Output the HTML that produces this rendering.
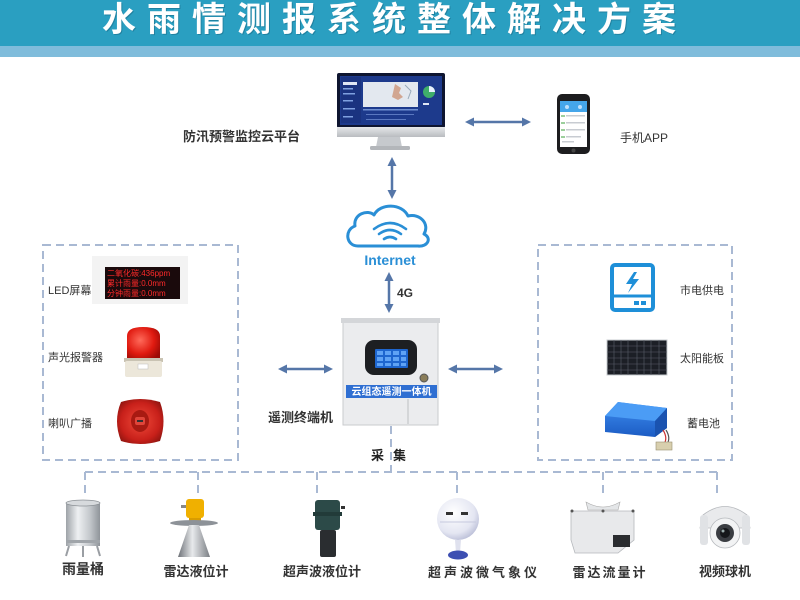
<!DOCTYPE html>
<html>
<head>
<meta charset="utf-8">
<style>
html,body{margin:0;padding:0;background:#fff;}
body{width:800px;height:600px;overflow:hidden;font-family:"Liberation Sans","Noto Sans CJK SC",sans-serif;}
svg{display:block;}
text{font-family:"Liberation Sans","Noto Sans CJK SC",sans-serif;}
</style>
</head>
<body>
<svg width="800" height="600" viewBox="0 0 800 600" xmlns="http://www.w3.org/2000/svg">
<defs>
  <linearGradient id="silver" x1="0" x2="1" y1="0" y2="0">
    <stop offset="0" stop-color="#9ea3a8"/>
    <stop offset="0.35" stop-color="#eef0f2"/>
    <stop offset="0.7" stop-color="#c4c8cc"/>
    <stop offset="1" stop-color="#8f949a"/>
  </linearGradient>
  <linearGradient id="chin" x1="0" x2="0" y1="0" y2="1">
    <stop offset="0" stop-color="#e6e8ea"/>
    <stop offset="1" stop-color="#b9bcc0"/>
  </linearGradient>
  <radialGradient id="reddome" cx="0.4" cy="0.4" r="0.7">
    <stop offset="0" stop-color="#ff6a5a"/>
    <stop offset="0.6" stop-color="#e01a10"/>
    <stop offset="1" stop-color="#9a0a05"/>
  </radialGradient>
  <radialGradient id="horn" cx="0.5" cy="0.5" r="0.6">
    <stop offset="0" stop-color="#f04a3a"/>
    <stop offset="0.7" stop-color="#c8201a"/>
    <stop offset="1" stop-color="#8e1510"/>
  </radialGradient>
  <radialGradient id="sphere" cx="0.4" cy="0.35" r="0.7">
    <stop offset="0" stop-color="#ffffff"/>
    <stop offset="0.7" stop-color="#e4e6f2"/>
    <stop offset="1" stop-color="#b8bcd6"/>
  </radialGradient>
  <linearGradient id="cone" x1="0" x2="1">
    <stop offset="0" stop-color="#6d7177"/>
    <stop offset="0.45" stop-color="#e8eaec"/>
    <stop offset="1" stop-color="#7a7e84"/>
  </linearGradient>
  <linearGradient id="batt" x1="0" x2="0" y1="0" y2="1">
    <stop offset="0" stop-color="#3f8ef0"/>
    <stop offset="1" stop-color="#1c5cc4"/>
  </linearGradient>
</defs>

<!-- Header -->
<rect x="0" y="0" width="800" height="46" fill="#2a9fc1"/>
<rect x="0" y="46" width="800" height="11" fill="#7fbcdb"/>
<text x="103" y="32" font-size="34" font-weight="bold" fill="#1b6f8c" letter-spacing="11" opacity="0.6">水雨情测报系统整体解决方案</text>
<text x="102" y="31" font-size="34" font-weight="bold" fill="#ffffff" letter-spacing="11">水雨情测报系统整体解决方案</text>

<!-- Monitor -->
<rect x="337" y="73" width="108" height="55" rx="2" fill="#0e1530"/>
<rect x="340" y="76" width="102" height="49" fill="#1d3a8c"/>
<rect x="341" y="77" width="20" height="46" fill="#1a3380"/>
<rect x="343" y="82" width="14" height="3" fill="#dfe6f5"/>
<rect x="343" y="88" width="10" height="1.5" fill="#7fa0e0"/>
<rect x="343" y="93" width="12" height="1.5" fill="#7fa0e0"/>
<rect x="343" y="100" width="10" height="1.5" fill="#7fa0e0"/>
<rect x="343" y="108" width="12" height="1.5" fill="#7fa0e0"/>
<rect x="343" y="116" width="10" height="1.5" fill="#7fa0e0"/>
<rect x="363" y="82" width="55" height="25" fill="#e3e8ef"/>
<path d="M395 84 l6 4 l-2 5 l4 4 l-5 3 l-6 -3 z" fill="#c98a6a" opacity="0.7"/>
<path d="M405 85 l6 6 l-3 8" stroke="#9ab" stroke-width="1" fill="none"/>
<rect x="363" y="109" width="55" height="1.5" fill="#6f8fd0"/>
<rect x="366" y="114" width="48" height="1" fill="#5a78c0"/>
<rect x="366" y="119" width="40" height="1" fill="#5a78c0"/>
<circle cx="429" cy="92" r="6" fill="#3fae6a"/>
<path d="M429 92 L429 86 A6 6 0 0 1 435 92 z" fill="#e8f0ff"/>
<rect x="423" y="103" width="6" height="2" fill="#dfe6f5"/>
<rect x="337" y="127" width="108" height="10" fill="url(#chin)"/>
<path d="M378 137 L400 137 L402 147 L376 147 z" fill="#c6c9cd"/>
<rect x="370" y="146" width="40" height="4" rx="1.5" fill="#b3b6ba"/>

<!-- Monitor label -->
<text x="183" y="141" font-size="13" fill="#333" font-weight="bold">防汛预警监控云平台</text>

<!-- Arrow monitor - phone -->
<g fill="#5576a8" stroke="#5576a8">
  <line x1="472" y1="122" x2="524" y2="122" stroke-width="2.5"/>
  <path d="M465 122 L474 117.5 L474 126.5 z" stroke="none"/>
  <path d="M531 122 L522 117.5 L522 126.5 z" stroke="none"/>
</g>

<!-- Phone -->
<rect x="557" y="94" width="33" height="60" rx="5" fill="#1d1d1f"/>
<rect x="560" y="101" width="27" height="46" fill="#ffffff"/>
<rect x="560" y="101" width="27" height="11" fill="#45a6ea"/>
<circle cx="567" cy="107" r="2" fill="#bfe0fb"/>
<circle cx="580" cy="107" r="2" fill="#bfe0fb"/>
<g fill="#9ccf9c"><rect x="561" y="115" width="4" height="2"/><rect x="561" y="122" width="4" height="2"/><rect x="561" y="129" width="4" height="2"/><rect x="561" y="136" width="4" height="2"/></g>
<g fill="#c8ccd2"><rect x="566" y="115" width="19" height="1.5"/><rect x="566" y="122" width="19" height="1.5"/><rect x="566" y="129" width="19" height="1.5"/><rect x="566" y="136" width="15" height="1.5"/><rect x="562" y="141" width="12" height="1.5"/></g>
<circle cx="573.5" cy="150.5" r="2" fill="#444"/>
<text x="620" y="142" font-size="12" fill="#333">手机APP</text>

<!-- Vertical arrow monitor - cloud -->
<g fill="#5576a8" stroke="#5576a8">
  <line x1="392" y1="164" x2="392" y2="192" stroke-width="2.5"/>
  <path d="M392 157 L387.5 166 L396.5 166 z" stroke="none"/>
  <path d="M392 199 L387.5 190 L396.5 190 z" stroke="none"/>
</g>

<!-- Cloud -->
<path d="M358 246 C346 246 344 230 355 226 C353 214 368 209 374 215 C380 203 402 203 408 216 C420 213 430 224 424 234 C432 238 428 247 418 246 Z" fill="none" stroke="#2a8fd6" stroke-width="3" stroke-linejoin="round"/>
<g fill="none" stroke="#2a8fd6" stroke-width="2.6" stroke-linecap="round">
  <path d="M374 229 Q390 217 406 229"/>
  <path d="M379 234 Q390 226 401 234"/>
  <path d="M384 239 Q390 235 396 239"/>
</g>
<text x="390" y="265" font-size="14" font-weight="bold" fill="#2a8fd6" text-anchor="middle">Internet</text>

<!-- 4G arrow -->
<g fill="#5576a8" stroke="#5576a8">
  <line x1="389" y1="279" x2="389" y2="306" stroke-width="2.5"/>
  <path d="M389 272 L384.5 281 L393.5 281 z" stroke="none"/>
  <path d="M389 313 L384.5 304 L393.5 304 z" stroke="none"/>
</g>
<text x="397" y="297" font-size="12" font-weight="bold" fill="#333">4G</text>

<!-- Cabinet -->
<rect x="343" y="321" width="95" height="104" fill="#ebecee" stroke="#c9cbce" stroke-width="1"/>
<rect x="341" y="318" width="99" height="5" fill="#d4d6d9"/>
<rect x="365" y="340" width="52" height="35" rx="9" fill="#1d1f22"/>
<rect x="375" y="349" width="33" height="19" rx="1" fill="#1e66cf"/>
<g fill="#5fa3f5">
  <rect x="377" y="351" width="6" height="4"/><rect x="385" y="351" width="6" height="4"/><rect x="393" y="351" width="6" height="4"/><rect x="401" y="351" width="5" height="4"/>
  <rect x="377" y="357" width="6" height="4"/><rect x="385" y="357" width="6" height="4"/><rect x="393" y="357" width="6" height="4"/><rect x="401" y="357" width="5" height="4"/>
  <rect x="377" y="363" width="6" height="3"/><rect x="385" y="363" width="6" height="3"/><rect x="393" y="363" width="6" height="3"/><rect x="401" y="363" width="5" height="3"/>
</g>
<circle cx="424" cy="378" r="4" fill="#8a7d5a" stroke="#555" stroke-width="1"/>
<rect x="346" y="385" width="91" height="13" fill="#2f6fd2"/>
<text x="391.5" y="395" font-size="10" fill="#fff" text-anchor="middle" font-weight="bold">云组态遥测一体机</text>
<line x1="408" y1="399" x2="408" y2="424" stroke="#bdbfc2" stroke-width="1"/>
<text x="268" y="422" font-size="13" fill="#333" font-weight="bold">遥测终端机</text>

<!-- Side arrows -->
<g fill="#5576a8" stroke="#5576a8">
  <line x1="285" y1="369" x2="326" y2="369" stroke-width="2.5"/>
  <path d="M278 369 L287 364.5 L287 373.5 z" stroke="none"/>
  <path d="M333 369 L324 364.5 L324 373.5 z" stroke="none"/>
  <line x1="455" y1="369" x2="496" y2="369" stroke-width="2.5"/>
  <path d="M448 369 L457 364.5 L457 373.5 z" stroke="none"/>
  <path d="M503 369 L494 364.5 L494 373.5 z" stroke="none"/>
</g>

<!-- 采集 -->
<text x="371" y="460" font-size="13" font-weight="bold" fill="#222">采</text>
<text x="393" y="460" font-size="13" font-weight="bold" fill="#222">集</text>

<!-- Dashed boxes and lines -->
<g fill="none" stroke="#a9b9d3" stroke-width="2" stroke-dasharray="8,5">
  <rect x="43" y="245" width="195" height="215"/>
  <rect x="538" y="245" width="194" height="215"/>
  <line x1="391" y1="426" x2="391" y2="472"/>
  <line x1="85" y1="472" x2="717" y2="472"/>
  <line x1="85" y1="472" x2="85" y2="494"/>
  <line x1="198" y1="472" x2="198" y2="494"/>
  <line x1="317" y1="472" x2="317" y2="494"/>
  <line x1="457" y1="472" x2="457" y2="494"/>
  <line x1="603" y1="472" x2="603" y2="494"/>
  <line x1="717" y1="472" x2="717" y2="494"/>
</g>

<!-- Left box: LED -->
<rect x="92" y="256" width="96" height="48" fill="#f3f3f3"/>
<rect x="105" y="267" width="75" height="32" fill="#1a0a0c"/>
<text x="107" y="276" font-size="8" fill="#ff2a2a">二氧化碳:436ppm</text>
<text x="107" y="286" font-size="8" fill="#ff2a2a">累计雨量:0.0mm</text>
<text x="107" y="296" font-size="8" fill="#ff2a2a">分钟雨量:0.0mm</text>
<text x="48" y="294" font-size="11" fill="#333">LED屏幕</text>

<!-- Alarm light -->
<path d="M127 360 L127 336 Q127 327 143 327 Q160 327 160 336 L160 360 z" fill="url(#reddome)"/>
<rect x="124" y="358" width="39" height="4" fill="#c9c3b3"/>
<rect x="125" y="361" width="37" height="16" rx="2" fill="#ece7da"/>
<rect x="138" y="364" width="10" height="5" fill="#fff" stroke="#bbb" stroke-width="0.5"/>
<text x="48" y="361" font-size="11" fill="#333">声光报警器</text>

<!-- Speaker -->
<path d="M121 402 Q140 396 160 402 Q167 421 160 441 Q140 447 121 441 Q113 421 121 402 z" fill="url(#horn)"/>
<ellipse cx="140" cy="421" rx="9" ry="11" fill="#a81a12"/>
<rect x="135" y="417" width="10" height="8" rx="2" fill="#e0453a"/>
<rect x="137" y="420" width="6" height="2" fill="#333"/>
<text x="48" y="427" font-size="11" fill="#333">喇叭广播</text>

<!-- Right box: power -->
<rect x="612" y="265" width="41" height="45" rx="3" fill="#fff" stroke="#1e8fd8" stroke-width="4"/>
<line x1="612" y1="296" x2="653" y2="296" stroke="#1e8fd8" stroke-width="3"/>
<rect x="634" y="301" width="5" height="4" fill="#1e8fd8"/>
<rect x="641" y="301" width="5" height="4" fill="#1e8fd8"/>
<path d="M634 272 L626 284 L632 284 L628 293 L639 279 L633 279 L637 272 z" fill="#1e8fd8"/>
<text x="680" y="294" font-size="11" fill="#333">市电供电</text>

<!-- Solar panel -->
<rect x="607" y="340" width="60" height="35" fill="#1c1f26" stroke="#c9ccd0" stroke-width="1"/>
<g stroke="#5a5f6a" stroke-width="0.6">
  <line x1="607" y1="346" x2="667" y2="346"/><line x1="607" y1="352" x2="667" y2="352"/><line x1="607" y1="358" x2="667" y2="358"/><line x1="607" y1="364" x2="667" y2="364"/><line x1="607" y1="370" x2="667" y2="370"/>
  <line x1="614" y1="340" x2="614" y2="375"/><line x1="621" y1="340" x2="621" y2="375"/><line x1="628" y1="340" x2="628" y2="375"/><line x1="637" y1="340" x2="637" y2="375"/><line x1="644" y1="340" x2="644" y2="375"/><line x1="651" y1="340" x2="651" y2="375"/><line x1="659" y1="340" x2="659" y2="375"/>
</g>
<text x="680" y="362" font-size="11" fill="#333">太阳能板</text>

<!-- Battery -->
<path d="M605 416 L618 402 L667 408 L667 428 L655 437 L605 432 z" fill="url(#batt)"/>
<path d="M605 416 L618 402 L667 408 L655 421 z" fill="#4b9cf5"/>
<path d="M655 421 L667 408 L667 428 L655 437 z" fill="#1a53b0"/>
<path d="M663 430 Q668 438 664 444" stroke="#c33" stroke-width="1.2" fill="none"/>
<path d="M666 430 Q671 438 667 444" stroke="#555" stroke-width="1.2" fill="none"/>
<rect x="656" y="442" width="16" height="8" fill="#d8cfae" stroke="#9a8f70" stroke-width="0.6"/>
<text x="687" y="427" font-size="11" fill="#333">蓄电池</text>

<!-- Bottom: rain bucket -->
<rect x="66" y="502" width="34" height="44" fill="url(#silver)"/>
<ellipse cx="83" cy="503" rx="17" ry="3" fill="#d7dadd" stroke="#8c9196" stroke-width="0.8"/>
<rect x="66" y="540" width="34" height="3" fill="#a0a5aa"/>
<path d="M69 546 L66 556 M97 546 L100 556 M83 546 L83 557" stroke="#9a9ea3" stroke-width="2" fill="none"/>
<text x="83" y="574" font-size="14" font-weight="bold" fill="#333" text-anchor="middle">雨量桶</text>

<!-- Radar level -->
<rect x="186" y="499" width="18" height="19" rx="3" fill="#f0b000"/>
<rect x="181" y="505" width="5" height="3" fill="#888"/>
<rect x="189" y="518" width="12" height="4" fill="#d99c00"/>
<ellipse cx="194" cy="523" rx="24" ry="3" fill="#8d9298"/>
<path d="M189 525 L199 525 L210 557 L178 557 z" fill="url(#cone)"/>
<text x="196" y="576" font-size="13" font-weight="bold" fill="#333" text-anchor="middle">雷达液位计</text>

<!-- Ultrasonic level -->
<rect x="315" y="500" width="25" height="30" rx="3" fill="#2c4a48"/>
<rect x="313" y="512" width="29" height="4" fill="#223b39"/>
<rect x="341" y="506" width="4" height="3" fill="#333"/>
<rect x="320" y="530" width="16" height="27" rx="2" fill="#2a2d30"/>
<text x="322" y="576" font-size="13" font-weight="bold" fill="#333" text-anchor="middle">超声波液位计</text>

<!-- Weather station -->
<circle cx="458" cy="519" r="21" fill="url(#sphere)"/>
<rect x="446" y="512" width="7" height="3" fill="#333"/>
<rect x="461" y="512" width="7" height="3" fill="#333"/>
<path d="M440 522 L476 522" stroke="#c6c9de" stroke-width="1"/>
<path d="M455 540 L461 540 L460 553 L456 553 z" fill="#dfe1ee"/>
<ellipse cx="458" cy="555" rx="10" ry="4.5" fill="#3d4fb2"/>
<text x="484" y="577" font-size="13" font-weight="bold" fill="#333" text-anchor="middle" letter-spacing="3">超声波微气象仪</text>

<!-- Radar flow -->
<path d="M590 504 Q603 510 616 504 L620 502 L618 510 L588 510 L586 502 z" fill="#e4e6e8" stroke="#aaa" stroke-width="0.6"/>
<path d="M571 511 L634 511 L634 540 L618 553 L575 553 L571 540 z" fill="#e8e9eb" stroke="#b5b8bc" stroke-width="0.8"/>
<rect x="613" y="535" width="17" height="12" fill="#2b2d30"/>
<circle cx="572" cy="511" r="1.5" fill="#555"/><circle cx="603" cy="511" r="1.5" fill="#555"/><circle cx="633" cy="511" r="1.5" fill="#555"/>
<text x="610" y="577" font-size="13" font-weight="bold" fill="#333" text-anchor="middle" letter-spacing="2">雷达流量计</text>

<!-- Camera -->
<path d="M703 515 Q725 498 747 515 L750 528 L700 528 z" fill="#e9eaec" stroke="#b6b9bd" stroke-width="0.8"/>
<rect x="700" y="515" width="8" height="30" rx="3" fill="#e0e2e5"/>
<rect x="742" y="515" width="8" height="30" rx="3" fill="#e0e2e5"/>
<circle cx="725" cy="533" r="15" fill="#f2f3f4" stroke="#b6b9bd" stroke-width="0.8"/>
<circle cx="725" cy="533" r="9" fill="#3a3d42"/>
<circle cx="725" cy="533" r="5" fill="#15171a"/>
<circle cx="723" cy="531" r="1.5" fill="#9aa"/>
<text x="725" y="576" font-size="13" font-weight="bold" fill="#333" text-anchor="middle">视频球机</text>
</svg>
</body>
</html>
